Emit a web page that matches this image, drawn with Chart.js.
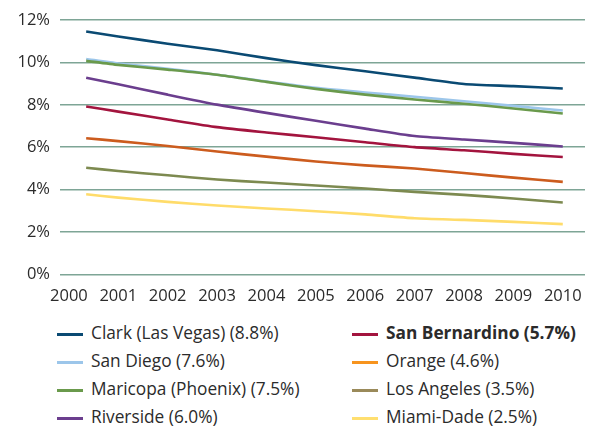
<!DOCTYPE html>
<html>
<head>
<meta charset="utf-8">
<script src="https://cdn.jsdelivr.net/npm/chart.js@4"></script>
<style>
  body { margin: 0; background: #fff; font-family: "Open Sans", sans-serif; color: #2b2b2b; }
  #wrap { position: relative; width: 592px; height: 431px; }
  #box { position: absolute; left: 0; top: 0; width: 592px; height: 305px; }
  .leg { position: absolute; font-size: 17.3px; line-height: 20px; white-space: nowrap; }
  .leg i { position: absolute; left: 0; top: 9px; width: 26px; height: 3px; }
  .leg span { position: absolute; left: 34px; top: -1px; }
</style>
</head>
<body>
<div id="wrap">
  <div id="box"><canvas id="graph"></canvas></div>
  <div id="legend"></div>
</div>
<script>
// x positions of the readings (the first reading sits a bit after the 2000 tick)
const years = [2000.35, 2001, 2002, 2003, 2004, 2005, 2006, 2007, 2008, 2009, 2010];
const tickYears = [2000, 2001, 2002, 2003, 2004, 2005, 2006, 2007, 2008, 2009, 2010];

const clark = [11.45, 11.22, 10.88, 10.57, 10.2, 9.87, 9.58, 9.28, 8.98, 8.88, 8.77];
const sanDiego = [10.16, 9.95, 9.7, 9.42, 9.1, 8.8, 8.58, 8.38, 8.17, 7.95, 7.73];
const maricopa = [10.07, 9.88, 9.66, 9.42, 9.08, 8.75, 8.48, 8.25, 8.05, 7.83, 7.59];
const riverside = [9.28, 8.97, 8.48, 8.01, 7.62, 7.25, 6.88, 6.53, 6.37, 6.21, 6.04];
const sanBernardino = [7.92, 7.68, 7.31, 6.95, 6.7, 6.47, 6.24, 6.01, 5.86, 5.69, 5.54];
const orange = [6.43, 6.29, 6.06, 5.8, 5.56, 5.33, 5.15, 5.0, 4.79, 4.57, 4.37];
const losAngeles = [5.04, 4.88, 4.68, 4.48, 4.34, 4.2, 4.06, 3.9, 3.76, 3.59, 3.4];
const miamiDade = [3.79, 3.63, 3.43, 3.26, 3.12, 2.99, 2.84, 2.66, 2.58, 2.49, 2.38];

const names = [
  'Clark (Las Vegas) (8.8%)', 'San Diego (7.6%)', 'Maricopa (Phoenix) (7.5%)', 'Riverside (6.0%)',
  'San Bernardino (5.7%)', 'Orange (4.6%)', 'Los Angeles (3.5%)', 'Miami-Dade (2.5%)'
];
const series = [clark, sanDiego, maricopa, riverside, sanBernardino, orange, losAngeles, miamiDade];
const lineColors = ['#0a4a73', '#9cc6ea', '#6a9a4c', '#6b3e8e', '#a3143e', '#cc5c1e', '#7d8a50', '#ffdc6a'];
const legendColors = ['#0a4a73', '#9cc6ea', '#6a9a4c', '#6b3e8e', '#a3143e', '#f7941e', '#9a8a5a', '#ffdf70'];
const yTicks = [0, 2, 4, 6, 8, 10, 12];

const datasets = series.map((s, i) => ({
  label: names[i],
  data: s.map((v, k) => ({ x: years[k], y: v })),
  borderColor: lineColors[i],
  borderWidth: 2.6,
  pointRadius: 0,
  tension: 0.2,
  fill: false,
  // Maricopa drawn on top of San Diego
  order: i === 2 ? 0 : (i === 1 ? 1 : 2)
}));

const font = { family: '"Open Sans", sans-serif', size: 16.5 };

new Chart(document.getElementById('graph'), {
  type: 'line',
  data: { datasets },
  options: {
    responsive: true,
    maintainAspectRatio: false,
    animation: false,
    layout: { padding: { top: 19, right: 7, left: 0, bottom: 0 } },
    plugins: { legend: { display: false }, tooltip: { enabled: false } },
    scales: {
      x: {
        type: 'linear',
        min: 1999.82,
        max: 2010.45,
        grid: { display: false },
        border: { display: false },
        afterBuildTicks: axis => { axis.ticks = tickYears.map(v => ({ value: v })); },
        afterFit: axis => { axis.height = 30.3; },
        ticks: { color: '#2b2b2b', font, padding: 4, maxRotation: 0, autoSkip: false, callback: v => String(v) }
      },
      y: {
        min: 0,
        max: 12,
        afterBuildTicks: axis => { axis.ticks = yTicks.map(v => ({ value: v })); },
        afterFit: axis => { axis.width = 60; },
        grid: { color: '#7ea596', lineWidth: 1.6, drawTicks: false },
        border: { display: false },
        ticks: { color: '#2b2b2b', font, padding: 10, callback: v => v + '%' }
      }
    }
  }
});

// legend, two columns of four
const legend = document.getElementById('legend');
const rowsY = [324, 352, 380, 408];
names.forEach((name, i) => {
  const col = Math.floor(i / 4), row = i % 4;
  const d = document.createElement('div');
  d.className = 'leg';
  d.style.left = (col === 0 ? 57 : 352) + 'px';
  d.style.top = rowsY[row] + 'px';
  d.innerHTML = '<i style="background:' + legendColors[i] + '"></i><span' +
    (i === 4 ? ' style="font-weight:700"' : '') + '>' + name + '</span>';
  legend.appendChild(d);
});
</script>
</body>
</html>
